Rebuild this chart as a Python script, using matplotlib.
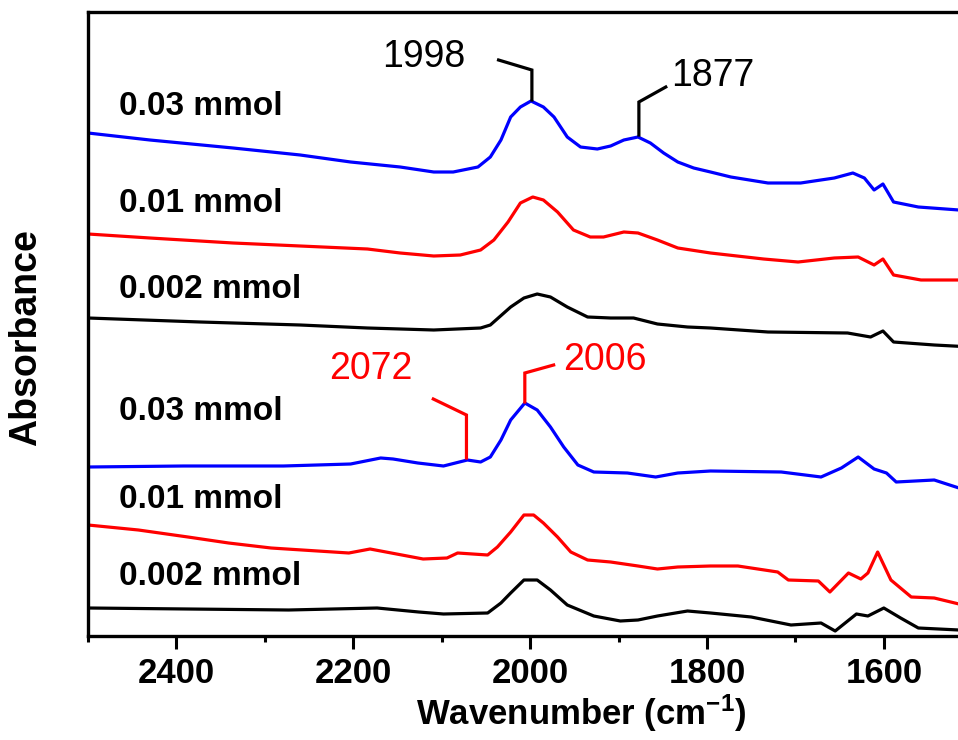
import matplotlib
matplotlib.use('Agg')
import matplotlib.pyplot as plt
from matplotlib.ticker import MultipleLocator

plt.rcParams['font.family'] = ['Liberation Sans', 'DejaVu Sans']
plt.rcParams['mathtext.default'] = 'regular'

# ---------------- data (wavenumber in cm-1, offset absorbance in a.u.) ----------------
wn_a03 = [2500, 2430, 2336, 2260, 2203, 2147, 2109, 2087, 2059, 2045, 2033, 2022, 2011, 1999,
          1985, 1973, 1958, 1943, 1924, 1909, 1894, 1878, 1864, 1849, 1833, 1815, 1796, 1773,
          1731, 1694, 1656, 1635, 1622, 1611, 1601, 1589, 1561, 1515, 1500]
ab_a03 = [0.503, 0.496, 0.488, 0.481, 0.474, 0.469, 0.464, 0.464, 0.469, 0.479, 0.496, 0.519,
          0.529, 0.535, 0.529, 0.519, 0.499, 0.489, 0.487, 0.490, 0.496, 0.499, 0.493, 0.483,
          0.474, 0.468, 0.464, 0.459, 0.453, 0.453, 0.458, 0.463, 0.458, 0.446, 0.452, 0.434,
          0.429, 0.426, 0.425]

wn_a01 = [2500, 2430, 2336, 2260, 2184, 2147, 2109, 2079, 2056, 2041, 2025, 2011, 1997, 1985,
          1969, 1951, 1932, 1917, 1894, 1878, 1856, 1833, 1796, 1736, 1697, 1656, 1629, 1611,
          1601, 1589, 1558, 1515, 1500]
ab_a01 = [0.402, 0.398, 0.393, 0.390, 0.387, 0.383, 0.380, 0.381, 0.386, 0.396, 0.414, 0.433,
          0.439, 0.436, 0.424, 0.406, 0.399, 0.399, 0.404, 0.403, 0.396, 0.388, 0.383, 0.377,
          0.374, 0.378, 0.379, 0.371, 0.377, 0.361, 0.356, 0.356, 0.356]

wn_a002 = [2500, 2373, 2260, 2184, 2109, 2056, 2045, 2022, 2007, 1992, 1977, 1958, 1935, 1909,
           1883, 1856, 1822, 1796, 1731, 1641, 1615, 1601, 1589, 1543, 1500]
ab_a002 = [0.318, 0.314, 0.311, 0.308, 0.306, 0.308, 0.311, 0.329, 0.338, 0.342, 0.339, 0.329,
           0.319, 0.318, 0.318, 0.312, 0.309, 0.308, 0.304, 0.303, 0.299, 0.305, 0.294, 0.291,
           0.289]

wn_b03 = [2500, 2392, 2279, 2203, 2169, 2155, 2127, 2098, 2071, 2056, 2045, 2033, 2022, 2006,
          1992, 1977, 1962, 1946, 1928, 1890, 1858, 1833, 1796, 1716, 1671, 1648, 1629, 1611,
          1597, 1586, 1543, 1515, 1500]
ab_b03 = [0.169, 0.170, 0.170, 0.172, 0.178, 0.177, 0.173, 0.170, 0.176, 0.174, 0.179, 0.196,
          0.216, 0.233, 0.226, 0.209, 0.189, 0.171, 0.164, 0.163, 0.159, 0.163, 0.165, 0.164,
          0.159, 0.168, 0.179, 0.167, 0.163, 0.154, 0.156, 0.148, 0.146]

wn_b01 = [2500, 2443, 2387, 2341, 2293, 2205, 2181, 2121, 2094, 2082, 2048, 2037, 2022, 2007,
          1996, 1985, 1969, 1954, 1935, 1909, 1878, 1856, 1833, 1796, 1765, 1720, 1708, 1674,
          1661, 1640, 1626, 1618, 1607, 1592, 1569, 1543, 1515, 1500]
ab_b01 = [0.111, 0.106, 0.099, 0.093, 0.088, 0.083, 0.087, 0.077, 0.078, 0.083, 0.081, 0.089,
          0.104, 0.121, 0.121, 0.113, 0.099, 0.084, 0.076, 0.074, 0.070, 0.067, 0.069, 0.070,
          0.070, 0.064, 0.056, 0.055, 0.044, 0.063, 0.057, 0.063, 0.084, 0.056, 0.039, 0.038,
          0.032, 0.031]

wn_b002 = [2500, 2387, 2273, 2173, 2126, 2098, 2048, 2033, 2022, 2007, 1992, 1977, 1958, 1928,
           1898, 1878, 1856, 1822, 1796, 1750, 1705, 1671, 1655, 1631, 1618, 1600, 1581, 1561,
           1515, 1500]
ab_b002 = [0.028, 0.027, 0.026, 0.028, 0.024, 0.022, 0.023, 0.033, 0.043, 0.056, 0.056, 0.046,
           0.031, 0.020, 0.015, 0.016, 0.020, 0.025, 0.023, 0.019, 0.011, 0.013, 0.005, 0.022,
           0.020, 0.028, 0.018, 0.008, 0.006, 0.005]

series_labels = ['0.03 mmol', '0.01 mmol', '0.002 mmol', '0.03 mmol', '0.01 mmol', '0.002 mmol']
peak_labels = ['1998', '1877', '2072', '2006']
peak_wn = [1998, 1877, 2072, 2006]
xticks = [2400, 2200, 2000, 1800, 1600]

# ---------------- figure ----------------
fig = plt.figure(figsize=(9.58, 7.40), dpi=100)
ax = fig.add_axes([88 / 958, 104 / 740, 884.25 / 958, 624 / 740])

series = [(wn_a03, ab_a03, '#0000FF'), (wn_a01, ab_a01, '#FF0000'), (wn_a002, ab_a002, '#000000'),
          (wn_b03, ab_b03, '#0000FF'), (wn_b01, ab_b01, '#FF0000'), (wn_b002, ab_b002, '#000000')]
for x, y, c in series:
    ax.plot(x, y, color=c, lw=2.3, solid_joinstyle='round')

ax.set_xlim(2500, 1500)
ax.set_ylim(0, 0.624)
ax.set_yticks([])
ax.set_xticks(xticks)
ax.xaxis.set_minor_locator(MultipleLocator(100))
ax.tick_params(axis='x', which='major', direction='out', length=9, width=2.2,
               labelsize=25, pad=6)
ax.tick_params(axis='x', which='minor', direction='out', length=4.5, width=2.2)
for lab in ax.get_xticklabels():
    lab.set_fontweight('bold')
for s in ['left', 'top', 'bottom']:
    ax.spines[s].set_linewidth(2.4)
ax.spines['right'].set_visible(False)

ax.set_xlabel('Wavenumber (cm$^{\\mathregular{-1}}$)', fontsize=25, fontweight='bold')
ax.xaxis.set_label_coords((581 - 88) / 884.25, -0.09)
ax.set_ylabel('Absorbance', fontsize=27, fontweight='bold')
ax.yaxis.set_label_coords(-0.05, 0.478)

# series labels
label_y = [0.5295, 0.432, 0.347, 0.2245, 0.1365, 0.0595]
for t, yy in zip(series_labels, label_y):
    ax.text(2465, yy, t, fontsize=24, fontweight='bold', ha='left', va='center')

# peak annotations (leader lines)
# (vertical bottom y, vertical top y, diagonal end wn, diagonal end y, text wn, text y, color)
ann = [
    (0.536, 0.566, 2035.7, 0.576, 2120.4, 0.579, '#000000'),
    (0.501, 0.534, 1846.6, 0.549, 1793.4, 0.560, '#000000'),
    (0.178, 0.221, 2109.5, 0.237, 2180.7, 0.267, '#FF0000'),
    (0.234, 0.263, 1973.4, 0.271, 1915.7, 0.276, '#FF0000'),
]
for lbl, w, (yb, yt, wd, yd, tx, ty, c) in zip(peak_labels, peak_wn, ann):
    ax.plot([w, w, wd], [yb, yt, yd], color=c, lw=2.3, solid_joinstyle='miter')
    ax.text(tx, ty, lbl, fontsize=27, color=c, ha='center', va='center')

fig.savefig('out.png', dpi=100)
